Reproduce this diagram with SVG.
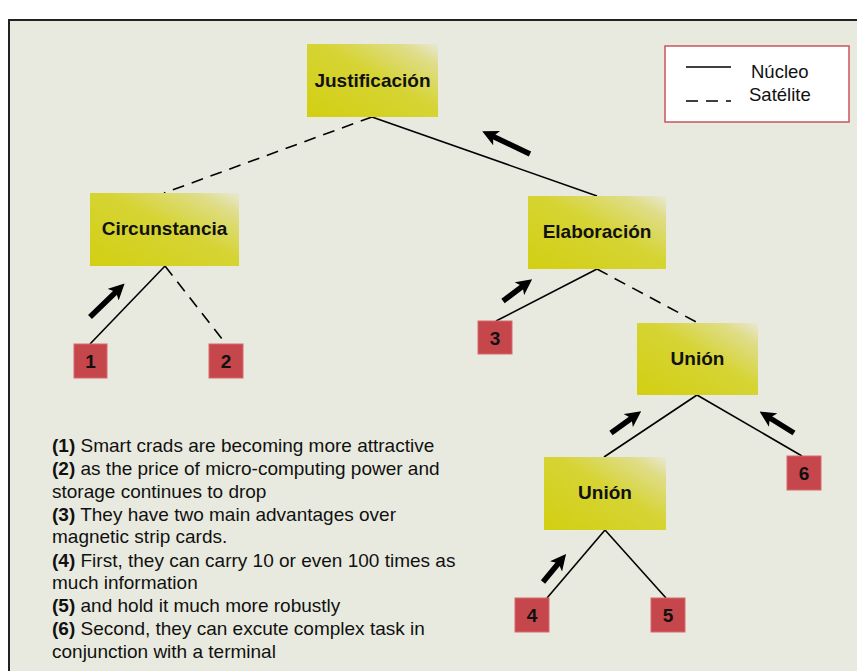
<svg xmlns="http://www.w3.org/2000/svg" width="857" height="671" viewBox="0 0 857 671">
<defs>
<linearGradient id="yg" x1="0" y1="1" x2="1" y2="0">
<stop offset="0" stop-color="#d2cf12"/>
<stop offset="0.55" stop-color="#d6d434"/>
<stop offset="0.85" stop-color="#dfdd88"/>
<stop offset="1" stop-color="#e9e8d6"/>
</linearGradient>
<marker id="ah" viewBox="0 0 10 10" refX="6" refY="5" markerWidth="16" markerHeight="16" markerUnits="userSpaceOnUse" orient="auto">
<path d="M0,0 L10,5 L0,10 L2.5,5 Z" fill="#000"/>
</marker>
<style>
.y{fill:url(#yg);}
.r{fill:#c5464b;stroke:#d7686c;stroke-width:1;}
.lbl{font-family:"Liberation Sans",Arial,sans-serif;font-weight:bold;font-size:19px;fill:#111;text-anchor:middle;}
.num{font-family:"Liberation Sans",Arial,sans-serif;font-weight:bold;font-size:19px;fill:#111;text-anchor:middle;}
.n{stroke:#000;stroke-width:1.6;fill:none;}
.s{stroke:#000;stroke-width:1.6;fill:none;stroke-dasharray:12,8;}
.ar{stroke:#000;stroke-width:5.5;fill:none;marker-end:url(#ah);}
.t{font-family:"Liberation Sans",Arial,sans-serif;font-size:19px;fill:#111;}
.t tspan.b{font-weight:bold;}
.lg{font-family:"Liberation Sans",Arial,sans-serif;font-size:18.5px;fill:#111;}
</style>
</defs>
<rect x="0" y="0" width="857" height="671" fill="#ffffff"/>
<rect x="9" y="20" width="860" height="670" fill="#e9eadf" stroke="#222" stroke-width="2"/>

<g id="connectors">
<line class="s" x1="372" y1="117" x2="164" y2="193"/>
<line class="n" x1="372" y1="117" x2="597" y2="196"/>
<line class="n" x1="165" y1="266" x2="90" y2="344"/>
<line class="s" x1="165" y1="266" x2="226" y2="344"/>
<line class="n" x1="597" y1="269" x2="496" y2="321"/>
<line class="s" x1="597" y1="269" x2="698" y2="323"/>
<line class="n" x1="697" y1="395" x2="604" y2="457"/>
<line class="n" x1="697" y1="395" x2="802" y2="456"/>
<line class="n" x1="605" y1="530" x2="547" y2="598"/>
<line class="n" x1="605" y1="530" x2="666" y2="598"/>
<line class="ar" x1="530" y1="154" x2="488" y2="134"/>
<line class="ar" x1="90" y1="317" x2="120" y2="288"/>
<line class="ar" x1="503" y1="301" x2="527" y2="283"/>
<line class="ar" x1="611" y1="433" x2="636" y2="415"/>
<line class="ar" x1="794" y1="433" x2="765" y2="415"/>
<line class="ar" x1="543" y1="582" x2="562" y2="559"/>
</g>

<g id="justificacion"><rect class="y" x="307" y="44" width="131" height="73"/><text class="lbl" x="372.5" y="86.5">Justificación</text></g>
<g id="circunstancia"><rect class="y" x="90" y="193" width="149" height="73"/><text class="lbl" x="164.5" y="235">Circunstancia</text></g>
<g id="elaboracion"><rect class="y" x="528" y="196" width="138" height="73"/><text class="lbl" x="597" y="238">Elaboración</text></g>
<g id="union1"><rect class="y" x="637" y="323" width="121" height="72"/><text class="lbl" x="697.5" y="365">Unión</text></g>
<g id="union2"><rect class="y" x="544" y="457" width="122" height="73"/><text class="lbl" x="605" y="499">Unión</text></g>

<g id="n1"><rect class="r" x="74" y="344" width="33" height="34"/><text class="num" x="90.5" y="368">1</text></g>
<g id="n2"><rect class="r" x="209" y="344" width="34" height="34"/><text class="num" x="226" y="368">2</text></g>
<g id="n3"><rect class="r" x="478" y="321" width="34" height="33"/><text class="num" x="495" y="344.5">3</text></g>
<g id="n6"><rect class="r" x="787" y="456" width="34" height="34"/><text class="num" x="804" y="480">6</text></g>
<g id="n4"><rect class="r" x="515" y="598" width="34" height="34"/><text class="num" x="532" y="622">4</text></g>
<g id="n5"><rect class="r" x="651" y="598" width="34" height="34"/><text class="num" x="668" y="622">5</text></g>

<g id="legend">
<rect x="665" y="46" width="184" height="76" fill="#ffffff" stroke="#c9555a" stroke-width="1.5"/>
<line x1="686" y1="67" x2="731" y2="67" stroke="#000" stroke-width="1.6"/>
<line x1="686" y1="101" x2="731" y2="101" stroke="#000" stroke-width="1.6" stroke-dasharray="12,8"/>
<text class="lg" x="751" y="78">Núcleo</text>
<text class="lg" x="749" y="101">Satélite</text>
</g>

<g id="texto">
<text class="t" x="52" y="452"><tspan class="b">(1)</tspan> Smart crads are becoming more attractive</text>
<text class="t" x="52" y="475"><tspan class="b">(2)</tspan> as the price of micro-computing power and</text>
<text class="t" x="52" y="497.7">storage continues to drop</text>
<text class="t" x="52" y="520.5"><tspan class="b">(3)</tspan> They have two main advantages over</text>
<text class="t" x="52" y="543">magnetic strip cards.</text>
<text class="t" x="52" y="566.5"><tspan class="b">(4)</tspan> First, they can carry 10 or even 100 times as</text>
<text class="t" x="52" y="589">much information</text>
<text class="t" x="52" y="611.7"><tspan class="b">(5)</tspan> and hold it much more robustly</text>
<text class="t" x="52" y="635"><tspan class="b">(6)</tspan> Second, they can excute complex task in</text>
<text class="t" x="52" y="657.7">conjunction with a terminal</text>
</g>
</svg>
